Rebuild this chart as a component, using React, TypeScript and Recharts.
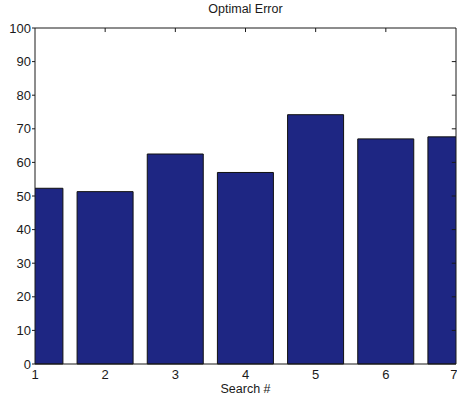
import { Bar, BarChart, ReferenceLine, XAxis, YAxis } from "recharts";

// search runs and the optimal error found on each
const searches = [1, 2, 3, 4, 5, 6, 7];
const errors = [52.3, 51.3, 62.5, 57, 74.2, 67, 67.6];
const yTicks = [0, 10, 20, 30, 40, 50, 60, 70, 80, 90, 100];

const data = searches.map((s, i) => ({ search: s, error: errors[i] }));

const ink = "#1a1a1a";
const font = "'Liberation Sans', Arial, Helvetica, sans-serif";
const xMax = 7;
const yMax = 100;

export default function App() {
  return (
    <div style={{ position: "absolute", left: 0, top: 0, width: 457, height: 396, overflow: "hidden", background: "#fff", fontFamily: font }}>
      <div style={{ position: "absolute", left: 35, width: 421, top: 2, textAlign: "center", fontSize: 12.5, color: ink }}>
        Optimal Error
      </div>
      <BarChart width={457} height={396} data={data} margin={{ top: 28, right: 1, bottom: 0, left: 0 }}>
        <XAxis
          dataKey="search"
          type="number"
          domain={[1, xMax]}
          ticks={searches}
          allowDataOverflow
          height={32}
          tickLine={false}
          tickMargin={0}
          stroke={ink}
          tick={{ fill: ink, fontSize: 13, fontFamily: font }}
        />
        <YAxis
          domain={[0, yMax]}
          ticks={yTicks}
          width={35}
          tickSize={3}
          tickMargin={1}
          stroke={ink}
          tick={{ fill: ink, fontSize: 13, fontFamily: font }}
        />
        <Bar dataKey="error" barSize={56} fill="#1e2683" stroke="#111" strokeWidth={1} isAnimationActive={false} />
        {/* top and right edges of the plot box, with inward ticks */}
        <ReferenceLine y={yMax} stroke={ink} ifOverflow="visible" />
        <ReferenceLine x={xMax} stroke={ink} ifOverflow="visible" />
        {searches.slice(1, -1).map((s) => (
          <ReferenceLine key={`t${s}`} segment={[{ x: s, y: yMax }, { x: s, y: yMax - 1.2 }]} stroke={ink} ifOverflow="visible" />
        ))}
        {yTicks.slice(1, -1).map((t) => (
          <ReferenceLine key={`r${t}`} segment={[{ x: xMax, y: t }, { x: xMax - 0.06, y: t }]} stroke={ink} ifOverflow="visible" />
        ))}
      </BarChart>
      <div style={{ position: "absolute", left: 35, width: 421, top: 382, textAlign: "center", fontSize: 12.5, color: ink }}>
        Search #
      </div>
    </div>
  );
}
